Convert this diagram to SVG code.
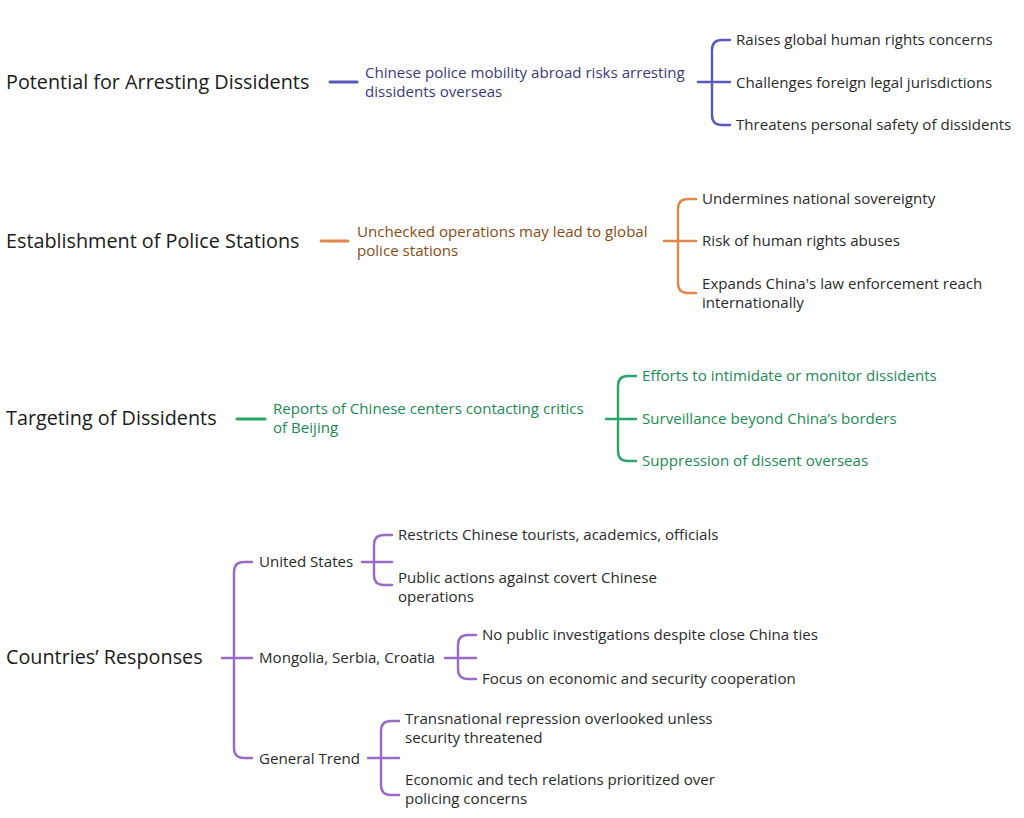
<svg xmlns="http://www.w3.org/2000/svg" width="1024" height="818" viewBox="0 0 1024 818">
<style>
text{font-family:"Open Sans","Liberation Sans",sans-serif;}
.m{font-size:19.8px;fill:#1a1a1a}
.s{font-size:15.1px;fill:#2a2a2a}
.l{fill:none;stroke-width:2.4;stroke-linecap:round}
.h{stroke-width:3}
.b{stroke:#5a58b8}.o{stroke:#e0874c}.g{stroke:#2aa468}.p{stroke:#9a6ac6}
.tb{fill:#3c3a7c}.to{fill:#8a4a14}.tg{fill:#1d8a55}
</style>
<rect width="1024" height="818" fill="#fff"/>
<g id="connectors">
<path class="l h b" d="M330,82H357"/>
<path class="l b" d="M698,82H730M730,40H722Q712,40 712,50V115Q712,125 722,125H730"/>
<path class="l h o" d="M321,241H348"/>
<path class="l o" d="M664,241H696M696,199H688Q678,199 678,209V283Q678,293 688,293H696"/>
<path class="l h g" d="M237,419H265"/>
<path class="l g" d="M606,419H636M636,376H628Q618,376 618,386V451Q618,461 628,461H636"/>
<path class="l p" d="M222,658H252M252,562H244Q234,562 234,572V748Q234,758 244,758H252"/>
<path class="l p" d="M362,562H392M392,535H384Q374,535 374,545V575Q374,585 384,585H392"/>
<path class="l p" d="M445,658H476M476,635H468Q458,635 458,645V669Q458,679 468,679H476"/>
<path class="l p" d="M368,758H399M399,721H391Q381,721 381,731V785Q381,795 391,795H399"/>
</g>
<g id="n1"><text class="m" x="6" y="89">Potential for Arresting Dissidents</text></g>
<g id="n1a"><text class="s tb" x="365" y="78">Chinese police mobility abroad risks arresting</text><text class="s tb" x="365" y="97">dissidents overseas</text></g>
<g id="n1a1"><text class="s" x="736" y="45">Raises global human rights concerns</text></g>
<g id="n1a2"><text class="s" x="736" y="88">Challenges foreign legal jurisdictions</text></g>
<g id="n1a3"><text class="s" x="736" y="130">Threatens personal safety of dissidents</text></g>
<g id="n2"><text class="m" x="6" y="248">Establishment of Police Stations</text></g>
<g id="n2a"><text class="s to" x="357" y="237">Unchecked operations may lead to global</text><text class="s to" x="357" y="256">police stations</text></g>
<g id="n2a1"><text class="s" x="702" y="204">Undermines national sovereignty</text></g>
<g id="n2a2"><text class="s" x="702" y="246">Risk of human rights abuses</text></g>
<g id="n2a3"><text class="s" x="702" y="289">Expands China's law enforcement reach</text><text class="s" x="702" y="308">internationally</text></g>
<g id="n3"><text class="m" x="6" y="425">Targeting of Dissidents</text></g>
<g id="n3a"><text class="s tg" x="273" y="414">Reports of Chinese centers contacting critics</text><text class="s tg" x="273" y="433">of Beijing</text></g>
<g id="n3a1"><text class="s tg" x="642" y="381">Efforts to intimidate or monitor dissidents</text></g>
<g id="n3a2"><text class="s tg" x="642" y="424">Surveillance beyond China’s borders</text></g>
<g id="n3a3"><text class="s tg" x="642" y="466">Suppression of dissent overseas</text></g>
<g id="n4"><text class="m" x="6" y="664">Countries’ Responses</text></g>
<g id="n4a"><text class="s" x="259" y="567">United States</text></g>
<g id="n4a1"><text class="s" x="398" y="540">Restricts Chinese tourists, academics, officials</text></g>
<g id="n4a2"><text class="s" x="398" y="583">Public actions against covert Chinese</text><text class="s" x="398" y="602">operations</text></g>
<g id="n4b"><text class="s" x="259" y="663">Mongolia, Serbia, Croatia</text></g>
<g id="n4b1"><text class="s" x="482" y="640">No public investigations despite close China ties</text></g>
<g id="n4b2"><text class="s" x="482" y="684">Focus on economic and security cooperation</text></g>
<g id="n4c"><text class="s" x="259" y="764">General Trend</text></g>
<g id="n4c1"><text class="s" x="405" y="724">Transnational repression overlooked unless</text><text class="s" x="405" y="743">security threatened</text></g>
<g id="n4c2"><text class="s" x="405" y="785">Economic and tech relations prioritized over</text><text class="s" x="405" y="804">policing concerns</text></g>
</svg>
